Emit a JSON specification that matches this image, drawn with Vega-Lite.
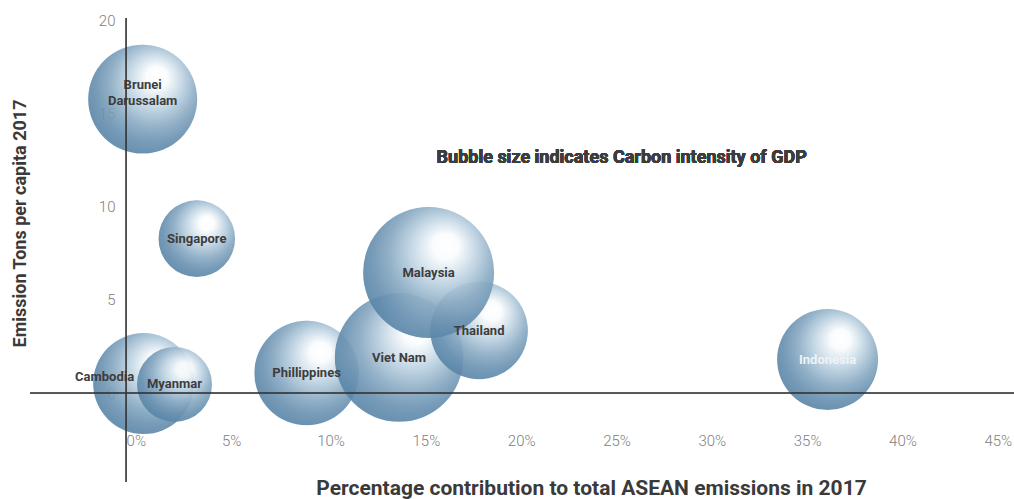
{
  "$schema": "https://vega.github.io/schema/vega-lite/v6.json",
  "width": 984,
  "height": 464,
  "autosize": {"type": "none"},
  "padding": {"left": 30, "top": 18, "right": 0, "bottom": 17},
  "background": "white",
  "config": {"view": {"stroke": null}, "font": "Roboto"},
  "data": {
    "values": [
      {"country": "Cambodia", "label": "Cambodia", "pct": 0.92, "tons": 0.51, "intensity": 0.594},
      {"country": "Myanmar", "label": "Myanmar", "pct": 2.54, "tons": 0.46, "intensity": 0.328},
      {"country": "Phillippines", "label": "Phillippines", "pct": 9.47, "tons": 1.07, "intensity": 0.636},
      {"country": "Viet Nam", "label": "Viet Nam", "pct": 14.32, "tons": 1.9, "intensity": 0.962},
      {"country": "Thailand", "label": "Thailand", "pct": 18.52, "tons": 3.35, "intensity": 0.554},
      {"country": "Malaysia", "label": "Malaysia", "pct": 15.87, "tons": 6.46, "intensity": 1.0},
      {"country": "Brunei Darussalam", "label": "Brunei\nDarussalam", "pct": 0.87, "tons": 15.76, "intensity": 0.692},
      {"country": "Singapore", "label": "Singapore", "pct": 3.71, "tons": 8.28, "intensity": 0.342},
      {"country": "Indonesia", "label": "Indonesia", "pct": 36.8, "tons": 1.8, "intensity": 0.594}
    ]
  },
  "layer": [
    {
      "mark": {
        "type": "circle",
        "opacity": 0.9,
        "fill": {
          "gradient": "radial",
          "x1": 0.64, "y1": 0.28, "r1": 0,
          "x2": 0.58, "y2": 0.4, "r2": 0.6,
          "stops": [
            {"offset": 0, "color": "#ffffff"},
            {"offset": 0.16, "color": "#fafcfd"},
            {"offset": 0.4, "color": "#c2d6e4"},
            {"offset": 0.66, "color": "#88a9c2"},
            {"offset": 0.86, "color": "#6890b0"},
            {"offset": 1, "color": "#5a86a8"}
          ]
        }
      },
      "encoding": {
        "x": {
          "field": "pct", "type": "quantitative",
          "scale": {"domain": [-5.04, 46.58], "nice": false, "zero": false},
          "axis": {
            "orient": "bottom", "offset": -42, "domain": false, "ticks": false, "tickSize": 0, "grid": false,
            "values": [0, 5, 10, 15, 20, 25, 30, 35, 40, 45],
            "labelExpr": "datum.value + '%'",
            "labelAlign": "left", "labelBaseline": "middle", "labelPadding": 0,
            "labelFontSize": 15, "labelFontWeight": 300, "labelColor": "#808080",
            "title": "Percentage contribution to total ASEAN emissions in 2017",
            "titleFontSize": 21, "titleFontWeight": "bold", "titleColor": "#3a3a3a",
            "titleX": 561, "titleY": 48, "titleAlign": "center", "titleBaseline": "middle", "titleAnchor": null
          }
        },
        "y": {
          "field": "tons", "type": "quantitative",
          "scale": {"domain": [-4.77, 20.11], "nice": false, "zero": false},
          "axis": {
            "orient": "left", "offset": -95, "domain": false, "ticks": false, "tickSize": 0, "grid": false,
            "values": [0, 5, 10, 15, 20],
            "labelAlign": "right", "labelBaseline": "middle", "labelPadding": 10,
            "labelFontSize": 15, "labelFontWeight": 300, "labelColor": "#808080",
            "title": "Emission Tons per capita 2017",
            "titleFontSize": 18, "titleFontWeight": "bold", "titleColor": "#3a3a3a",
            "titleAngle": -90, "titleX": -105, "titleY": 205, "titleAlign": "center", "titleBaseline": "middle", "titleAnchor": null
          }
        },
        "size": {
          "field": "intensity", "type": "quantitative",
          "scale": {"domain": [0, 1], "range": [0, 17161]},
          "legend": null
        }
      }
    },
    {
      "transform": [{"filter": "datum.country !== 'Cambodia' && datum.country !== 'Brunei Darussalam' && datum.country !== 'Indonesia'"}],
      "mark": {"type": "text", "fontSize": 13, "fontWeight": "bold", "color": "#3d3d3d", "align": "center", "baseline": "middle"},
      "encoding": {
        "x": {"field": "pct", "type": "quantitative"},
        "y": {"field": "tons", "type": "quantitative"},
        "text": {"field": "label"}
      }
    },
    {
      "transform": [{"filter": "datum.country === 'Cambodia'"}],
      "mark": {"type": "text", "fontSize": 13, "fontWeight": "bold", "color": "#3d3d3d", "align": "center", "baseline": "middle", "dx": -39, "dy": -7},
      "encoding": {
        "x": {"field": "pct", "type": "quantitative"},
        "y": {"field": "tons", "type": "quantitative"},
        "text": {"field": "label"}
      }
    },
    {
      "transform": [{"filter": "datum.country === 'Brunei Darussalam'"}],
      "mark": {"type": "text", "fontSize": 13, "fontWeight": "bold", "color": "#3d3d3d", "align": "center", "baseline": "middle", "dy": -14, "lineBreak": "\n", "lineHeight": 16},
      "encoding": {
        "x": {"field": "pct", "type": "quantitative"},
        "y": {"field": "tons", "type": "quantitative"},
        "text": {"field": "label"}
      }
    },
    {
      "transform": [{"filter": "datum.country === 'Indonesia'"}],
      "mark": {"type": "text", "fontSize": 13, "fontWeight": "bold", "color": "#eef3f7", "align": "center", "baseline": "middle", "dy": 1},
      "encoding": {
        "x": {"field": "pct", "type": "quantitative"},
        "y": {"field": "tons", "type": "quantitative"},
        "text": {"field": "label"}
      }
    },
    {
      "mark": {"type": "text", "text": "Bubble size indicates Carbon intensity of GDP", "fontSize": 18, "fontWeight": "bold", "color": "#3d3d3d", "align": "center", "baseline": "middle"},
      "encoding": {
        "x": {"datum": 26.0, "type": "quantitative"},
        "y": {"datum": 12.6, "type": "quantitative"}
      }
    },
    {
      "mark": {"type": "rule", "stroke": "#3a3a3a", "opacity": 0.6, "strokeOpacity": 0.6, "strokeWidth": 1},
      "encoding": {"x": {"datum": 0, "type": "quantitative"}}
    },
    {
      "mark": {"type": "rule", "stroke": "#3a3a3a", "opacity": 0.6, "strokeOpacity": 0.6, "strokeWidth": 1},
      "encoding": {"y": {"datum": 0, "type": "quantitative"}}
    }
  ]
}
